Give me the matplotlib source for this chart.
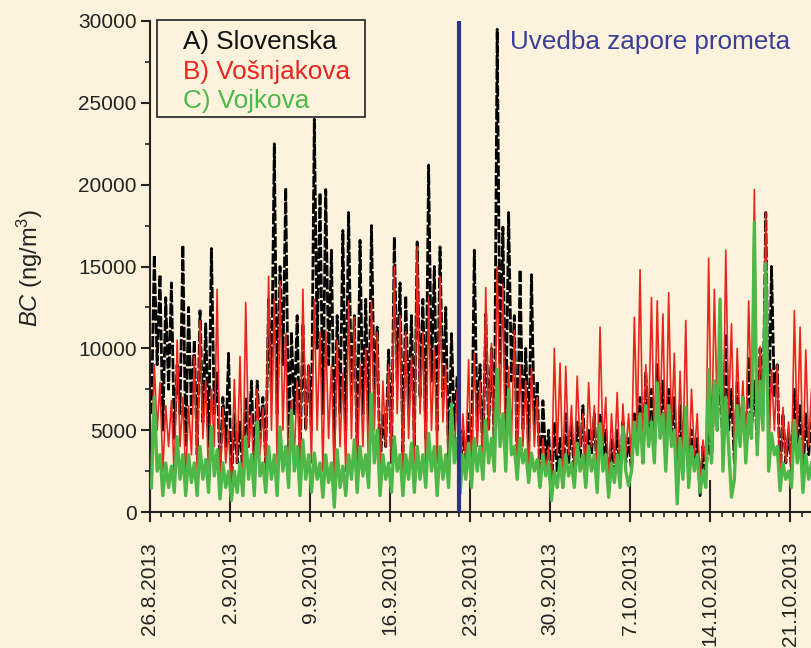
import matplotlib
matplotlib.use("Agg")
import matplotlib.pyplot as plt
import matplotlib.dates as mdates
from matplotlib.patches import Rectangle
from matplotlib.ticker import FixedLocator, MultipleLocator
import pandas as pd

plt.rcParams['font.family'] = ['Liberation Sans', 'DejaVu Sans']
plt.rcParams['mathtext.fontset'] = 'custom'
plt.rcParams['mathtext.rm'] = 'Liberation Sans'
plt.rcParams['mathtext.it'] = 'Liberation Sans:italic'

# ---------------- data (ng/m3), 4 readings per day (03h, 09h, 15h, 21h) ----------------
start_time = '2013-08-26 03:00'
step = '6h'

slovenska = [
    6000, 15700, 9000, 14500,   5000, 13100, 7500, 14000,   4500, 9000, 6000, 16300,
    4000, 12500, 6000, 10500,   3500, 12300, 5500, 11500,   4000, 16100, 6000, 8500,
    2500, 7000, 4000, 9700,     1500, 6000, 3000, 5500,     2000, 7000, 4000, 8000,
    2500, 8000, 4500, 7000,     3000, 13000, 7000, 22500,   6000, 15000, 9000, 19800,
    4000, 11000, 6000, 12000,   3000, 11500, 5000, 9000,    5000, 24000, 10000, 19500,
    6000, 19700, 9000, 16000,   4000, 12000, 6000, 17200,   5000, 18300, 7000, 12000,
    3500, 16600, 6000, 13000,   4500, 17500, 7000, 11300,   2500, 6000, 4000, 9900,
    3000, 16800, 8000, 14000,   3500, 13200, 6000, 12000,   4000, 16500, 7000, 13000,
    4500, 21200, 8000, 15000,   5000, 16200, 7000, 12500,   3000, 10900, 5000, 8300,
    2000, 5000, 3000, 6000,     2500, 16000, 5000, 9000,    3000, 12100, 5000, 10000,
    4000, 29500, 9000, 17400,   5000, 18300, 8000, 12000,   3000, 14800, 5000, 10000,
    3500, 14500, 5000, 8000,    1500, 6800, 3000, 5000,     1000, 5500, 2500, 4500,
    1500, 6000, 3000, 5500,     2000, 5500, 3000, 6500,     2500, 5000, 3500, 6000,
    2000, 6000, 3000, 5000,     1500, 4500, 2500, 5000,     2000, 5500, 3000, 4500,
    2500, 6000, 4000, 7000,     3000, 8500, 5000, 7500,     3500, 9000, 5000, 8000,
    3000, 7500, 4500, 7000,     1500, 6500, 3000, 5500,     2000, 5000, 3000, 4500,
    1000, 4000, 2000, 5000,     3000, 8000, 5000, 9000,     3500, 10900, 5000, 7500,
    3000, 8000, 4500, 7000,     3500, 9500, 5000, 8000,     4000, 10000, 6000, 18300,
    5000, 15000, 7000, 9000,    2000, 6000, 3000, 5000,     2500, 7500, 4000, 6500,
    2000, 6000, 3500, 5500,
]

vosnjakova = [
    3000, 9000, 5000, 7900,     2500, 6500, 4000, 6800,     2000, 10500, 4000, 7000,
    2000, 6500, 3500, 9500,     2500, 11700, 4500, 8000,    2000, 7500, 4000, 13600,
    1500, 6400, 3000, 5000,     1200, 8100, 3000, 9500,     1500, 12800, 4000, 6000,
    1500, 7500, 3500, 6400,     2500, 14400, 5000, 13000,   3000, 14100, 5000, 10900,
    2000, 6800, 3500, 8000,     2500, 13600, 5000, 9000,    3000, 13000, 5000, 11000,
    2500, 11100, 4500, 9000,    2000, 10500, 4000, 8500,    2500, 12900, 4500, 11900,
    2000, 9000, 4000, 10000,    2500, 12900, 5000, 11000,   2000, 8000, 4000, 9000,
    3000, 15000, 6000, 12000,   2500, 11000, 4500, 9500,    3000, 16200, 6000, 11000,
    2500, 13100, 5000, 10000,   3000, 14400, 5500, 9000,    2000, 6800, 3500, 7500,
    1500, 6000, 3000, 9300,     2000, 9700, 4000, 8000,     2500, 13700, 5000, 10300,
    3000, 15000, 6000, 13900,   2500, 8900, 4500, 11100,    2500, 9000, 4000, 8000,
    2000, 8800, 4000, 7000,     1500, 4500, 2500, 4000,     1500, 10000, 3500, 9100,
    2000, 8900, 3500, 6500,     2500, 8300, 4000, 6000,     2500, 7900, 4000, 6500,
    2000, 11300, 4000, 7000,    1500, 6000, 3000, 7300,     2000, 6600, 3500, 6000,
    3000, 11900, 5000, 14800,   3500, 9000, 5500, 13100,    3500, 12900, 5500, 12100,
    3000, 13400, 5000, 9700,    2000, 8600, 3500, 11700,    2000, 7500, 3500, 6000,
    1500, 4400, 3000, 15500,    3500, 13600, 6000, 10900,   3500, 16000, 6000, 11500,
    3000, 10000, 5000, 8000,    3500, 12900, 6000, 19700,   4000, 10100, 6000, 18300,
    3000, 8700, 5000, 9000,     1500, 6400, 3000, 5500,     2500, 12300, 4500, 11300,
    2500, 9900, 4000, 7500,
]

vojkova = [
    1500, 7000, 2500, 3500,     1000, 3000, 1500, 2800,     1200, 4600, 2000, 3500,
    1000, 3500, 1800, 3000,     1000, 4000, 2000, 3200,     1200, 5200, 2200, 3800,
    800, 3000, 1500, 2500,      700, 2500, 1200, 3000,      1000, 4600, 2000, 3500,
    1000, 5500, 2200, 3000,     1200, 4000, 2000, 3500,     1000, 5200, 2500, 4000,
    1500, 6200, 2500, 4000,     1000, 4400, 2000, 3500,     1200, 3600, 2000, 3000,
    900, 3500, 1800, 3000,      300, 3800, 1500, 2800,      1000, 3500, 2000, 4400,
    1200, 4000, 2200, 3500,     1500, 7200, 3000, 5000,     1000, 3500, 2000, 3000,
    1200, 4600, 2500, 3500,     1000, 3500, 2000, 4200,     1200, 4000, 2000, 3500,
    1500, 4800, 2500, 4000,     1000, 4000, 2000, 3500,     1500, 6600, 3000, 4500,
    1100, 3500, 2000, 4200,     1500, 4500, 2500, 4000,     2000, 5600, 3000, 4500,
    2500, 8700, 4000, 6000,     2500, 7500, 3500, 4000,     2000, 4500, 3000, 3800,
    1800, 3600, 2500, 3200,     1500, 3500, 2200, 3000,     700, 2500, 1500, 3200,
    1500, 3500, 2200, 3000,     1500, 4200, 2500, 3500,     1500, 4000, 2500, 3500,
    1200, 5400, 2500, 3500,     900, 3000, 1800, 3500,      1500, 5200, 2500, 1600,
    2500, 5500, 3500, 6000,     3000, 6500, 4000, 5500,     3000, 7900, 4500, 6000,
    2500, 6500, 4000, 5000,     500, 4500, 2000, 6400,      1500, 4000, 2500, 3500,
    1200, 2500, 1500, 8700,     3000, 8000, 5000, 13000,    2500, 7000, 4000, 900,
    2000, 6500, 4000, 7000,     3000, 6000, 4500, 17700,    3500, 8000, 5000, 15200,
    2500, 4800, 3500, 4000,     1300, 3000, 2000, 2500,     1500, 5600, 3000, 4500,
    1200, 3500, 2000, 3000,
]

series_names = ['A) Slovenska', 'B) Vošnjakova', 'C) Vojkova']
tick_dates = ['2013-08-26', '2013-09-02', '2013-09-09', '2013-09-16', '2013-09-23',
              '2013-09-30', '2013-10-07', '2013-10-14', '2013-10-21']
tick_labels = ['26.8.2013', '2.9.2013', '9.9.2013', '16.9.2013', '23.9.2013',
               '30.9.2013', '7.10.2013', '14.10.2013', '21.10.2013']
closure_date = '2013-09-22'
closure_label = 'Uvedba zapore prometa'

# ---------------- figure ----------------
bg = '#FDF3DC'
fig = plt.figure(figsize=(8.11, 6.48), dpi=100, facecolor=bg)
ax = fig.add_axes([150 / 811, 136 / 648, 661 / 811, 491 / 648])
ax.set_facecolor(bg)

times = pd.date_range(start_time, periods=len(slovenska), freq=step)

ax.plot(times, slovenska, color='#000000', lw=2.0, ls=(0, (4, 0.8)), zorder=2)
ax.plot(times, vosnjakova, color='#E8261E', lw=1.2, zorder=3)
ax.plot(times, vojkova, color='#4DB848', lw=2.4, zorder=4)

ax.axvline(pd.Timestamp(closure_date), color='#2E3192', lw=3.0, zorder=5)

t0 = pd.Timestamp('2013-08-26')
ax.set_xlim(t0, t0 + pd.Timedelta(days=57.83))
ax.set_ylim(0, 30000)

for s in ['top', 'right']:
    ax.spines[s].set_visible(False)
for s in ['left', 'bottom']:
    ax.spines[s].set_linewidth(1.5)
    ax.spines[s].set_color('#222222')

tick_pos = [pd.Timestamp(d) for d in tick_dates]
ax.set_xticks(tick_pos)
ax.set_xticklabels(tick_labels, rotation=90, fontsize=15, color='#222222')
ax.xaxis.set_minor_locator(mdates.DayLocator())
ax.tick_params(axis='x', which='major', direction='out', length=7.5, width=1.5,
               color='#222222', pad=14)
ax.tick_params(axis='x', which='minor', direction='out', length=3.5, width=1.2,
               color='#222222')

sec = ax.secondary_xaxis('bottom')
sec.set_xticks(tick_pos)
sec.tick_params(axis='x', which='major', direction='in', length=23, width=1.5,
                color='#222222', labelbottom=False)
sec.xaxis.set_minor_locator(FixedLocator([]))
sec.spines['bottom'].set_visible(False)

ax.yaxis.set_major_locator(MultipleLocator(5000))
ax.yaxis.set_minor_locator(MultipleLocator(2500))
ax.tick_params(axis='y', which='major', direction='out', length=6.5, width=1.5,
               color='#222222', labelsize=15, labelcolor='#222222', pad=3)
ax.tick_params(axis='y', which='minor', direction='out', length=3.5, width=1.2,
               color='#222222')

fig.text(30 / 811, 1 - 268 / 648, r'$\it{BC}$ (ng/m$^3$)', rotation=90,
         ha='center', va='center', fontsize=17, color='#222222')

# legend-like box
ax.add_patch(Rectangle((7 / 661, (512 - 117) / 491), 208 / 661, 97 / 491,
                       transform=ax.transAxes, facecolor=bg, edgecolor='#222222',
                       lw=1.2, zorder=6, clip_on=False))
colors = ['#111111', '#E8261E', '#4DB848']
for i, (name, c) in enumerate(zip(series_names, colors)):
    ax.text(33 / 661, (512 - (42 + 29.5 * i)) / 491, name, color=c, fontsize=18.8,
            transform=ax.transAxes, ha='left', va='center', zorder=7)

ax.text(360 / 661, (512 - 42) / 491, closure_label, color='#3B3F98', fontsize=18.8,
        transform=ax.transAxes, ha='left', va='center', zorder=7)

fig.savefig('out.png', dpi=100, facecolor=bg)
